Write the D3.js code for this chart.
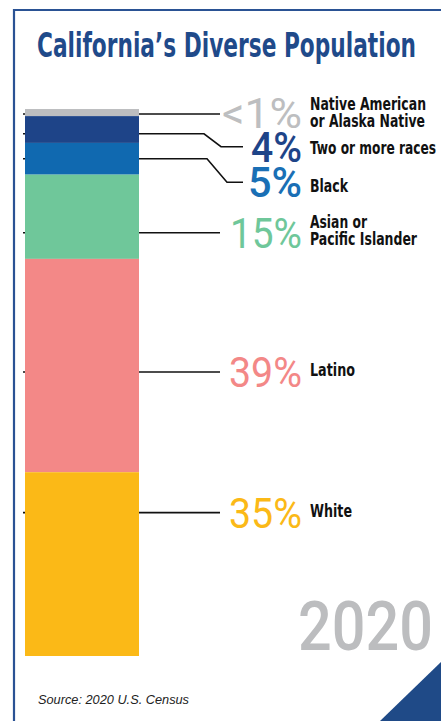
<!DOCTYPE html>
<html>
<head>
<meta charset="utf-8">
<script src="https://cdn.jsdelivr.net/npm/d3@7"></script>
<style>
  html, body { margin: 0; padding: 0; background: #fff; }
  svg { display: block; }
</style>
</head>
<body>
<div id="chart"></div>
<script>
// Datos del gráfico (de arriba hacia abajo en la barra)
const categories = ["Native American or Alaska Native", "Two or more races", "Black", "Asian or Pacific Islander", "Latino", "White"];
const labelLines = [["Native American", "or Alaska Native"], ["Two or more races"], ["Black"], ["Asian or", "Pacific Islander"], ["Latino"], ["White"]];
const pctLabels = ["<1%", "4%", "5%", "15%", "39%", "35%"];
const shares = [1.3, 4.9, 5.8, 15.4, 39, 33.6];
const colors = ["#bdbec0", "#1e4488", "#1069b0", "#6fc79a", "#f38887", "#fbb917"];
const pctColors = ["#bdbec0", "#1e4488", "#1a6fb5", "#6fc79a", "#f38887", "#fbb917"];
const pctBold = [false, true, true, false, false, false];

const title = "California\u2019s Diverse Population";
const year = "2020";
const source = "Source: 2020 U.S. Census";

const width = 441, height = 721;
const narrow = "'Liberation Sans Narrow', 'DejaVu Sans Condensed', 'Roboto', sans-serif";

const svg = d3.select("#chart").append("svg")
    .attr("width", width)
    .attr("height", height);

// Marco azul (arriba y a la izquierda)
svg.append("path")
    .attr("d", `M14,${height} L14,10 L${width},10`)
    .attr("fill", "none")
    .attr("stroke", "#2a5294")
    .attr("stroke-width", 2.2);

// Triángulo de la esquina
svg.append("path")
    .attr("d", `M380,${height} L${width},662 L${width},${height} Z`)
    .attr("fill", "#1f4a87");

// Título
svg.append("text")
    .attr("x", 37).attr("y", 57)
    .attr("textLength", 379).attr("lengthAdjust", "spacingAndGlyphs")
    .style("font-family", narrow).style("font-weight", "bold")
    .style("font-size", "34px").style("fill", "#1f4a8a")
    .text(title);

// Escala vertical de la barra apilada
const total = d3.sum(shares);
const y = d3.scaleLinear().domain([0, total]).range([109, 656]);
const barX0 = 25, barX1 = 139;

let acc = 0;
const segs = shares.map((v, i) => {
    const s = { i, y0: acc, y1: acc + v };
    acc += v;
    return s;
});

// Posición de las líneas guía (fracción dentro del tramo) y del rótulo
const leaderFrac = [0.7, 0.66, 0.5, 0.69, 0.53, 0.22];
const anchorY = [113.3, 146.7, 182.3, 232.7, 371.7, 512.7];
const pctWidth = [80, 51, 54, 72, 73, 73];
const lineWidths = [[116, 115], [126], [38], [57, 107], [45], [42]];
const labelDy = [[-3.3, 13.4], [7.6], [9.4], [-5, 12.3], [4], [4]];

// Líneas guía (detrás de la barra)
svg.selectAll(".leader")
    .data(segs)
    .enter().append("path")
    .attr("class", "leader")
    .attr("fill", "none")
    .attr("stroke", "#111")
    .attr("stroke-width", 1.6)
    .attr("d", d => {
        const ys = y(d.y0 + (d.y1 - d.y0) * leaderFrac[d.i]);
        const ye = anchorY[d.i];
        if (Math.abs(ye - ys) < 3) return `M23,${ys} L220,${ys}`;
        const bend = d.i === 1 ? 204 : 207;
        const bendEnd = d.i === 1 ? 221 : 227;
        return `M23,${ys} L${bend},${ys} L${bendEnd},${ye} L243,${ye}`;
    });

// Barra apilada
svg.selectAll(".seg")
    .data(segs)
    .enter().append("rect")
    .attr("class", "seg")
    .attr("x", barX0)
    .attr("width", barX1 - barX0)
    .attr("y", d => y(d.y0))
    .attr("height", d => y(d.y1) - y(d.y0))
    .attr("fill", d => colors[d.i]);

// Porcentajes
svg.selectAll(".pct")
    .data(segs)
    .enter().append("text")
    .attr("class", "pct")
    .attr("x", d => 302 - pctWidth[d.i])
    .attr("y", d => anchorY[d.i] + 15)
    .attr("textLength", d => pctWidth[d.i])
    .attr("lengthAdjust", "spacingAndGlyphs")
    .style("font-family", "Roboto, sans-serif")
    .style("font-weight", d => pctBold[d.i] ? 500 : 400)
    .style("font-size", "43px")
    .style("fill", d => pctColors[d.i])
    .text(d => pctLabels[d.i]);

// Nombres de categorías
segs.forEach(d => {
    labelLines[d.i].forEach((line, j) => {
        svg.append("text")
            .attr("x", 310)
            .attr("y", anchorY[d.i] + labelDy[d.i][j])
            .attr("textLength", lineWidths[d.i][j])
            .attr("lengthAdjust", "spacingAndGlyphs")
            .style("font-family", narrow).style("font-weight", "bold")
            .style("font-size", "17px").style("fill", "#111")
            .text(line);
    });
});

// Año
svg.append("text")
    .attr("x", 298).attr("y", 650)
    .attr("textLength", 135).attr("lengthAdjust", "spacingAndGlyphs")
    .style("font-family", "Roboto, sans-serif").style("font-weight", 500)
    .style("font-size", "68px").style("fill", "#bcbdbf")
    .text(year);

// Fuente
svg.append("text")
    .attr("x", 38).attr("y", 704)
    .attr("textLength", 151).attr("lengthAdjust", "spacingAndGlyphs")
    .style("font-family", "'Liberation Sans', sans-serif").style("font-style", "italic")
    .style("font-size", "13.5px").style("fill", "#222")
    .text(source);
</script>
</body>
</html>
